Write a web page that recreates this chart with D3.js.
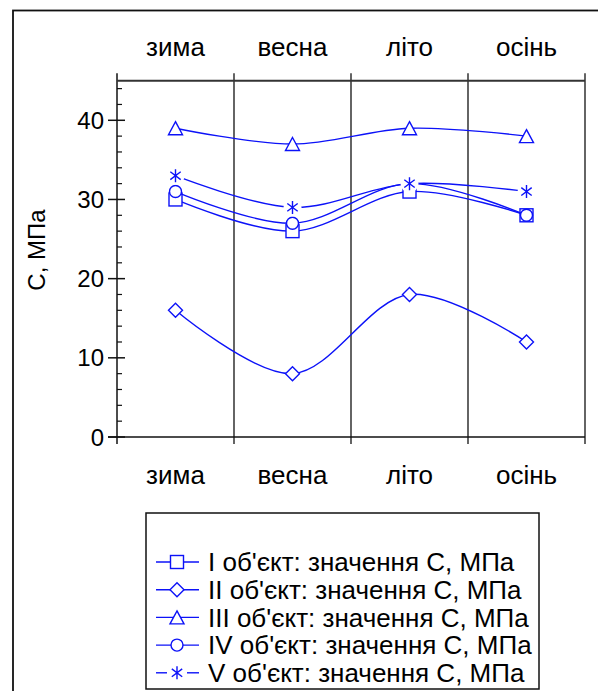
<!DOCTYPE html>
<html><head><meta charset="utf-8">
<script src="https://cdn.jsdelivr.net/npm/d3@7"></script>
<style>body{margin:0;background:#fff;} svg{display:block;} text{font-family:"Liberation Sans",Arial,sans-serif;fill:#000;}</style>
</head><body>
<svg id="chart" width="598" height="691"></svg>
<script>
const seasons = ["зима", "весна", "літо", "осінь"];
const seriesNames = ["I об'єкт: значення С, МПа", "II об'єкт: значення С, МПа", "III об'єкт: значення С, МПа", "IV об'єкт: значення С, МПа", "V об'єкт: значення С, МПа"];
const seriesI = [30, 26, 31, 28];
const seriesII = [16, 8, 18, 12];
const seriesIII = [39, 37, 39, 38];
const seriesIV = [31, 27, 32, 28];
const seriesV = [33, 29, 32, 31];
const markerTypes = ["square", "diamond", "triangle", "circle", "asterisk"];
const yTicks = [0, 10, 20, 30, 40];
const yLabel = "С, МПа";

const allSeries = [seriesI, seriesII, seriesIII, seriesIV, seriesV];
const svg = d3.select("#chart");
const blue = "#0c12f8";
const fs = 26;
const fsLeg = 26;

svg.append("rect").attr("x", 13).attr("y", 10.5).attr("width", 600).attr("height", 700)
  .attr("fill", "none").attr("stroke", "#111").attr("stroke-width", 1.8);

const L = 117, R = 585, T = 80.7, B = 437;
const x = d3.scaleBand().domain(seasons).range([L, R]).padding(0);
const y = d3.scaleLinear().domain([0, 45]).range([B, T]);

const g = svg.append("g");
const axisCol = "#111";
const bounds = seasons.map(s => x(s)).concat([R]);
bounds.forEach((bx, i) => {
  g.append("line").attr("x1", bx).attr("x2", bx).attr("y1", y(45.95)).attr("y2", B + 7)
    .attr("stroke", axisCol).attr("stroke-width", i === 0 ? 1.5 : 1.3);
});
g.append("line").attr("x1", L).attr("x2", R).attr("y1", T).attr("y2", T).attr("stroke", "#333").attr("stroke-width", 2);
g.append("line").attr("x1", L - 9).attr("x2", R).attr("y1", B).attr("y2", B).attr("stroke", axisCol).attr("stroke-width", 1.5);

const minor = d3.range(0, 46, 2).filter(v => v % 10 !== 0);
minor.forEach(v => g.append("line").attr("x1", L).attr("x2", L + 5).attr("y1", y(v)).attr("y2", y(v)).attr("stroke", axisCol).attr("stroke-width", 1.2));
yTicks.forEach(v => {
  g.append("line").attr("x1", L - 9).attr("x2", L + 8).attr("y1", y(v)).attr("y2", y(v)).attr("stroke", axisCol).attr("stroke-width", 1.5);
  g.append("text").attr("x", L - 13).attr("y", y(v)).attr("dy", "0.36em").attr("text-anchor", "end")
    .attr("font-size", fs - 2).text(v);
});

seasons.forEach(s => {
  const cx = x(s) + x.bandwidth() / 2;
  g.append("text").attr("x", cx).attr("y", 47).attr("dy", "0.36em").attr("text-anchor", "middle").attr("font-size", fs).text(s);
  g.append("text").attr("x", cx).attr("y", 475).attr("dy", "0.36em").attr("text-anchor", "middle").attr("font-size", fs).text(s);
});

svg.append("text").attr("transform", "translate(45,250) rotate(-90)").attr("text-anchor", "middle")
  .attr("font-size", 24).text(yLabel);

function drawMarker(sel, type, cx, cy, halo) {
  const m = sel.append("g").attr("transform", `translate(${cx},${cy})`);
  if (halo && type === "asterisk") m.append("circle").attr("r", 9).attr("fill", "#fff");
  const st = p => p.attr("stroke", blue).attr("stroke-width", 1.4);
  if (type === "square") st(m.append("rect").attr("x", -6.5).attr("y", -6.5).attr("width", 13).attr("height", 13).attr("fill", "#fff"));
  else if (type === "diamond") st(m.append("path").attr("d", "M0,-7L7,0L0,7L-7,0Z").attr("fill", "#fff"));
  else if (type === "triangle") st(m.append("path").attr("d", "M0,-6.5L7,6.5L-7,6.5Z").attr("fill", "#fff"));
  else if (type === "circle") st(m.append("circle").attr("r", 6).attr("fill", "#fff"));
  else if (type === "asterisk") {
    const a = 6.5;
    st(m.append("path").attr("d", `M0,${-a}L0,${a}M${-a*0.8},${-a*0.6}L${a*0.8},${a*0.6}M${-a*0.8},${a*0.6}L${a*0.8},${-a*0.6}`).attr("fill", "none"));
  }
}

const line = d3.line().x((d, i) => x(seasons[i]) + x.bandwidth() / 2).y(d => y(d)).curve(d3.curveCatmullRom.alpha(0.5));
const plot = svg.append("g");
allSeries.forEach((vals, si) => {
  plot.append("path").attr("d", line(vals)).attr("fill", "none").attr("stroke", blue).attr("stroke-width", 1.4);
  vals.forEach((v, i) => drawMarker(plot, markerTypes[si], x(seasons[i]) + x.bandwidth() / 2, y(v), true));
});

const lg = svg.append("g");
lg.append("rect").attr("x", 146).attr("y", 513).attr("width", 393).attr("height", 176)
  .attr("fill", "#fff").attr("stroke", "#111").attr("stroke-width", 1.5);
seriesNames.forEach((name, i) => {
  const ry = 562 + i * 27.7;
  if (markerTypes[i] === "asterisk") {
    lg.append("line").attr("x1", 156).attr("x2", 167).attr("y1", ry).attr("y2", ry).attr("stroke", blue).attr("stroke-width", 1.4);
    lg.append("line").attr("x1", 187).attr("x2", 199).attr("y1", ry).attr("y2", ry).attr("stroke", blue).attr("stroke-width", 1.4);
  } else {
    lg.append("line").attr("x1", 156).attr("x2", 199).attr("y1", ry).attr("y2", ry).attr("stroke", blue).attr("stroke-width", 1.4);
  }
  drawMarker(lg, markerTypes[i], 177, ry, false);
  lg.append("text").attr("x", 208).attr("y", ry).attr("dy", "0.36em").attr("font-size", fsLeg).text(name);
});
</script>
</body></html>
